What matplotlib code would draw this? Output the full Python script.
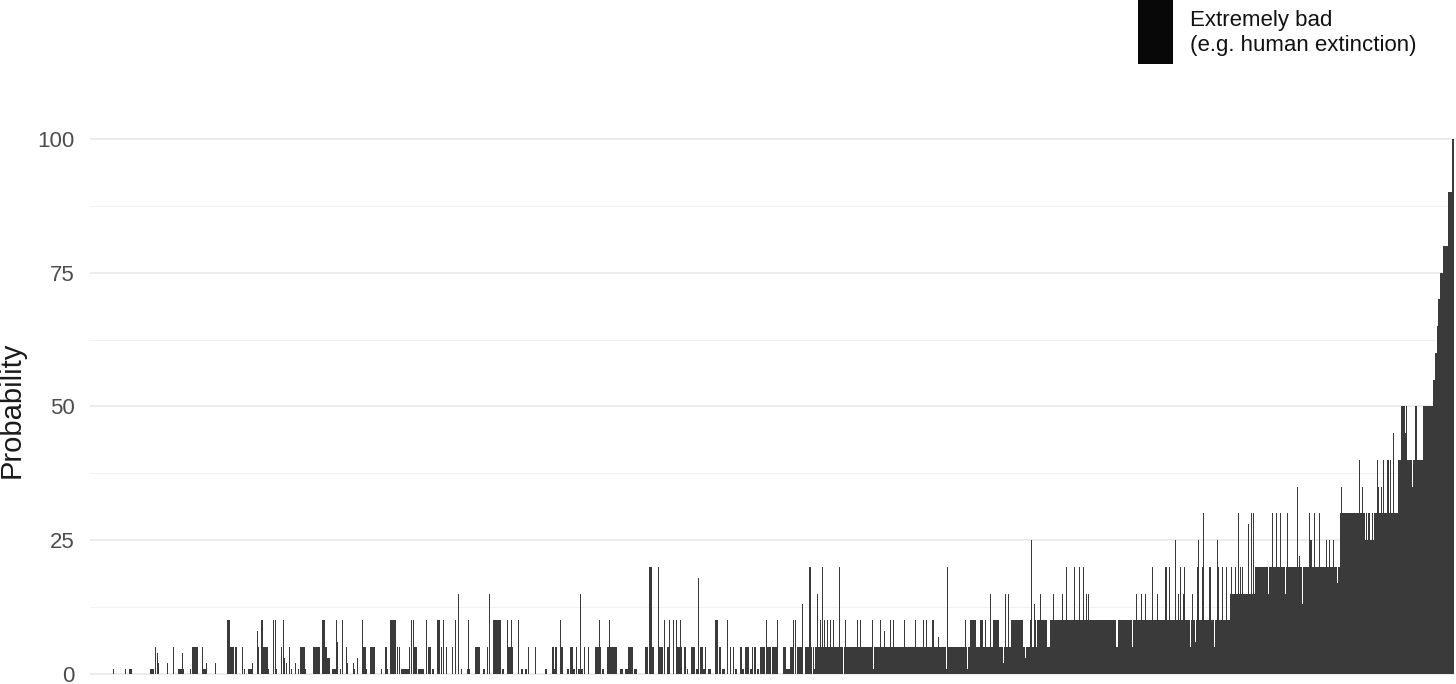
import matplotlib
matplotlib.use("Agg")
import matplotlib.pyplot as plt
from matplotlib.patches import Rectangle
import numpy as np

plt.rcParams['font.family'] = ['Liberation Sans', 'DejaVu Sans']

# respondents sorted by answer; base level runs (value, number of respondents)
base_values = [0, 5, 10, 15, 20, 30, 40, 50, 55, 60, 65, 70, 75, 80, 90, 100]
base_counts = [720, 240, 180, 25, 85, 58, 25, 10, 2, 2, 1, 2, 3, 5, 4, 2]

# answers that differ from the base level: start respondent, run length, value
spike_start = [
    23, 35, 39, 60, 65, 67, 68, 77, 83, 88, 92, 100, 102, 112, 113, 116, 125,
    137, 140, 145, 152, 154, 158, 162, 167, 168, 171, 173, 178, 183, 185, 186,
    191, 193, 194, 196, 199, 201, 205, 208, 210, 215, 223, 232, 235, 237,
    242, 246, 247, 250, 252, 256, 257, 263, 264, 267, 272, 273, 276, 280, 291,
    295, 297, 300, 307, 309, 311, 319, 321, 323, 324, 328, 336, 338, 342, 347,
    351, 353, 356, 362, 365, 368, 371, 377, 378, 385, 393, 397, 399, 403, 412,
    417, 418, 421, 428, 431, 435, 438, 445, 455, 462, 464, 470, 471, 477,
    480, 483, 486, 488, 490, 491, 494, 498, 505, 509, 512, 517, 519, 530, 535,
    538, 544, 555, 559, 562, 568, 569, 574, 577, 579, 583, 586, 587, 590, 594,
    597, 601, 606, 608, 610, 613, 618, 625, 629, 632, 637, 640, 643, 645,
    650, 652, 655, 657, 660, 662, 664, 667, 670, 672, 676, 677, 682, 687, 693,
    696, 700, 703, 705, 707, 712, 715, 719,
    720, 722, 724, 727, 730, 732, 734, 737, 740, 743, 749, 753, 755, 767, 770,
    782, 783, 790, 794, 800, 803, 814, 825, 833, 836, 842, 848, 856, 857, 875,
    877, 880, 883, 890, 895, 900, 903, 907, 913, 915, 918, 921, 923, 928, 935,
    940, 941, 944, 945, 947, 950,
    963, 972, 976, 984, 989, 993, 996, 998, 1026, 1042, 1046, 1051, 1055, 1062,
    1067, 1075, 1079, 1085, 1088, 1090, 1093, 1094, 1100, 1102, 1105, 1107,
    1108, 1112, 1113, 1119, 1120, 1124, 1127, 1128, 1132, 1136,
    1141, 1145, 1148, 1150, 1152, 1158, 1161, 1163,
    1178, 1182, 1186, 1190, 1195, 1197, 1207, 1209, 1212, 1219, 1220, 1224,
    1229, 1236, 1239, 1243, 1247, 1251,
    1269, 1272, 1275, 1277, 1280, 1283, 1287, 1288, 1291, 1293, 1297, 1300,
    1303, 1311, 1315, 1322, 1325, 1328,
]
spike_width = [
    1, 1, 3, 4, 1, 1, 1, 1, 1, 6, 1, 1, 6, 1, 4, 1, 1,
    3, 4, 2, 1, 1, 4, 1, 1, 1, 2, 5, 1, 1, 1, 1,
    1, 1, 1, 1, 1, 1, 1, 1, 5, 1, 7, 3, 2, 3,
    5, 1, 1, 1, 1, 1, 1, 1, 1, 1, 1, 3, 1, 5, 1,
    3, 1, 6, 1, 1, 8, 1, 1, 1, 3, 6, 1, 3, 2, 3,
    1, 1, 1, 1, 1, 1, 1, 3, 1, 5, 2, 1, 1, 8, 2,
    1, 5, 1, 1, 2, 2, 1, 1, 2, 5, 1, 1, 2, 2,
    3, 2, 1, 2, 1, 2, 1, 1, 6, 1, 2, 10, 1, 3, 3,
    5, 3, 3, 3, 2, 1, 4, 1, 3, 1, 1, 1, 5, 1, 2,
    1, 4, 2, 1, 6, 2, 3, 3, 2, 3, 1, 1, 1, 2,
    2, 2, 2, 2, 2, 1, 2, 2, 2, 3, 1, 4, 5, 1, 3,
    4, 3, 1, 1, 5, 1, 4, 1,
    1, 1, 1, 1, 1, 1, 1, 1, 1, 1, 1, 1, 1, 1, 1,
    1, 1, 1, 1, 1, 1, 1, 1, 1, 1, 2, 1, 1, 1,
    1, 1, 3, 3, 3, 1, 1, 4, 2, 1, 1, 1, 3, 5, 5,
    1, 1, 1, 1, 1, 10,
    1, 1, 1, 1, 1, 1, 1, 1, 1, 2, 1, 1, 1, 1,
    1, 1, 2, 1, 1, 1, 1, 1, 1, 1, 1, 1,
    1, 1, 1, 1, 1, 1, 1, 1, 1, 1,
    1, 1, 1, 1, 1, 1, 1, 1,
    1, 1, 1, 1, 1, 1, 1, 1, 1, 1, 1, 2,
    1, 1, 1, 1, 1, 1,
    1, 1, 1, 1, 1, 2, 1, 1, 1, 1, 1, 2,
    1, 1, 6, 1, 1, 2,
]
spike_value = [
    1, 1, 1, 1, 5, 4, 2, 2, 5, 1, 4, 1, 5, 5, 1, 2, 2,
    10, 5, 5, 5, 1, 1, 2, 8, 5, 10, 5, 1, 10, 10, 1,
    5, 10, 3, 2, 5, 1, 2, 1, 5, 1, 5, 10, 5, 3,
    1, 10, 6, 1, 10, 5, 2, 2, 1, 3, 10, 5, 1, 5, 1,
    5, 1, 10, 5, 5, 1, 5, 10, 10, 5, 1, 10, 5, 1, 10,
    5, 10, 5, 5, 10, 15, 1, 1, 10, 5, 1, 5, 15, 10, 1,
    10, 5, 10, 10, 1, 1, 5, 5, 1, 5, 1, 10, 5, 1,
    5, 1, 5, 1, 15, 1, 5, 5, 5, 10, 1, 5, 10, 1, 1,
    5, 1, 5, 20, 5, 20, 5, 10, 5, 10, 10, 10, 5, 10, 5,
    1, 5, 1, 18, 5, 1, 1, 10, 5, 1, 10, 5, 5, 1,
    5, 1, 5, 5, 1, 5, 5, 1, 5, 5, 10, 5, 5, 10, 5,
    1, 5, 10, 10, 5, 13, 5, 20,
    20, 0, 1, 15, 10, 20, 10, 10, 10, 10, 20, 0, 10, 10, 10,
    10, 1, 10, 8, 10, 10, 10, 10, 10, 10, 10, 7, 1, 20,
    10, 1, 10, 10, 10, 10, 15, 10, 10, 2, 15, 15, 10, 10, 10,
    3, 10, 25, 13, 10, 10,
    15, 15, 15, 20, 20, 20, 20, 15, 15, 5, 5, 15, 15, 15,
    20, 15, 20, 20, 25, 15, 20, 15, 20, 5, 15, 6,
    20, 25, 20, 30, 20, 20, 5, 25, 20, 20,
    20, 20, 20, 30, 20, 20, 28, 30,
    30, 15, 30, 30, 30, 15, 30, 35, 22, 13, 30, 25,
    30, 30, 25, 25, 25, 17,
    35, 40, 35, 25, 25, 25, 25, 40, 35, 35, 40, 40,
    40, 45, 50, 45, 35, 50,
]

probability = np.repeat(base_values, base_counts).astype(float)
for s, w, v in zip(spike_start, spike_width, spike_value):
    probability[s:s + w] = v

n = len(probability)
respondent = np.arange(n)

fig = plt.figure(figsize=(14.56, 6.84), dpi=100)
ax = fig.add_axes([90 / 1456, 0, 1364 / 1456, (684 - 112.25) / 684])

ax.bar(respondent, probability, width=0.9, color='#3a3a3a', linewidth=0, zorder=3)

ax.set_xlim(-0.5, n - 0.5)
ax.set_ylim(-1.87, 105)
ax.set_yticks([0, 25, 50, 75, 100])
ax.set_yticks([12.5, 37.5, 62.5, 87.5], minor=True)
ax.set_xticks([])
ax.grid(axis='y', which='major', color='#ebebeb', linewidth=1.3, zorder=0)
ax.grid(axis='y', which='minor', color='#f0f0f0', linewidth=0.7, zorder=0)
ax.tick_params(axis='y', which='both', length=0, pad=11, labelsize=16, labelcolor='#4d4d4d')
for side in ax.spines.values():
    side.set_visible(False)

ax.set_ylabel('Probability', fontsize=21, color='#1a1a1a')
ax.yaxis.set_label_coords(-0.047, 0.48)

# legend
fig.add_artist(Rectangle((1138 / 1456, (684 - 64) / 684), 35 / 1456, 70 / 684,
                         transform=fig.transFigure, facecolor='#080808', edgecolor='none'))
fig.text(1190 / 1456, 1 - 33 / 684, 'Extremely bad\n(e.g. human extinction)',
         fontsize=16, color='#111111', va='center', ha='left', linespacing=1.25)

fig.savefig('out.png', dpi=100)
